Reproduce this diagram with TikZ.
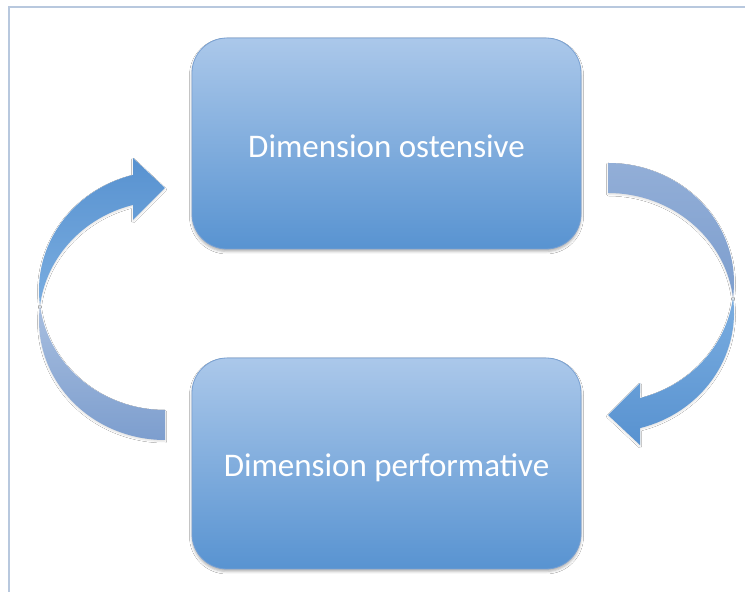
\documentclass[tikz,border=0pt]{standalone}
\usepackage{fontspec}
\setmainfont{Carlito}
\usetikzlibrary{shadows.blur}
\definecolor{framecol}{RGB}{184,200,222}
\definecolor{boxtop}{RGB}{171,200,234}
\definecolor{boxbot}{RGB}{88,147,209}
\definecolor{boxedge}{RGB}{120,160,210}
\definecolor{backtop}{RGB}{146,174,215}
\definecolor{backbot}{RGB}{125,158,206}
\definecolor{fronttop}{RGB}{122,173,224}
\definecolor{frontbot}{RGB}{88,146,208}
\begin{document}
\begin{tikzpicture}[x=1pt,y=1pt,
  box/.style={draw=boxedge, line width=0.8pt, rounded corners=35pt,
    top color=boxtop, bottom color=boxbot,
    minimum width=389pt, minimum height=211pt, inner sep=0pt,
    blur shadow={shadow xshift=0pt, shadow yshift=-2.5pt, shadow blur radius=2.5pt, shadow opacity=30}},
  lbl/.style={text=white, font=\fontsize{33}{39}\selectfont, anchor=base, inner sep=0pt},
  arrowpart/.style={blur shadow={shadow xshift=0pt, shadow yshift=-1.5pt, shadow blur radius=1.5pt, shadow opacity=12}}]
\useasboundingbox (0,0) rectangle (745,592);
\fill[white] (0,0) rectangle (745,592);
% frame
\draw[framecol, line width=1.6pt] (9,0) -- (9,585) -- (745,585);
% boxes
\node[box] (ost) at (386.5,448.5) {};
\node[box] (perf) at (386.5,128.5) {};
\node[lbl] (tost) at (386.5,434) {Dimension ostensive};
\node[lbl] (tperf) at (386.5,115) {Dimension performative};
% right curved arrow (from ostensive down to performative)
\path[arrowpart, top color=backtop, bottom color=backbot]
  (608,429) arc[start angle=90, end angle=-7.21, x radius=126, y radius=119.5]
  arc[start angle=7.21, end angle=90, x radius=126, y radius=119.5] -- cycle;
\path[arrowpart, top color=fronttop, bottom color=frontbot]
  (733.0,294.5) arc[start angle=-7.21, end angle=-75.29, x radius=126, y radius=119.5]
  -- (640,209) -- (608,177) -- (640,147) -- (640,163.9)
  arc[start angle=-75.29, end angle=7.21, x radius=126, y radius=119.5] -- cycle;
% left curved arrow (from performative up to ostensive)
\path[arrowpart, top color=backtop!80!white, bottom color=backbot]
  (165,152) arc[start angle=270, end angle=172.79, x radius=126, y radius=119.5]
  arc[start angle=187.21, end angle=270, x radius=126, y radius=119.5] -- cycle;
\path[arrowpart, top color=frontbot, bottom color=fronttop]
  (40,286.5) arc[start angle=172.79, end angle=104.71, x radius=126, y radius=119.5]
  -- (133,372) -- (165,404) -- (133,434) -- (133,417.1)
  arc[start angle=104.71, end angle=187.21, x radius=126, y radius=119.5] -- cycle;
\end{tikzpicture}
\end{document}
